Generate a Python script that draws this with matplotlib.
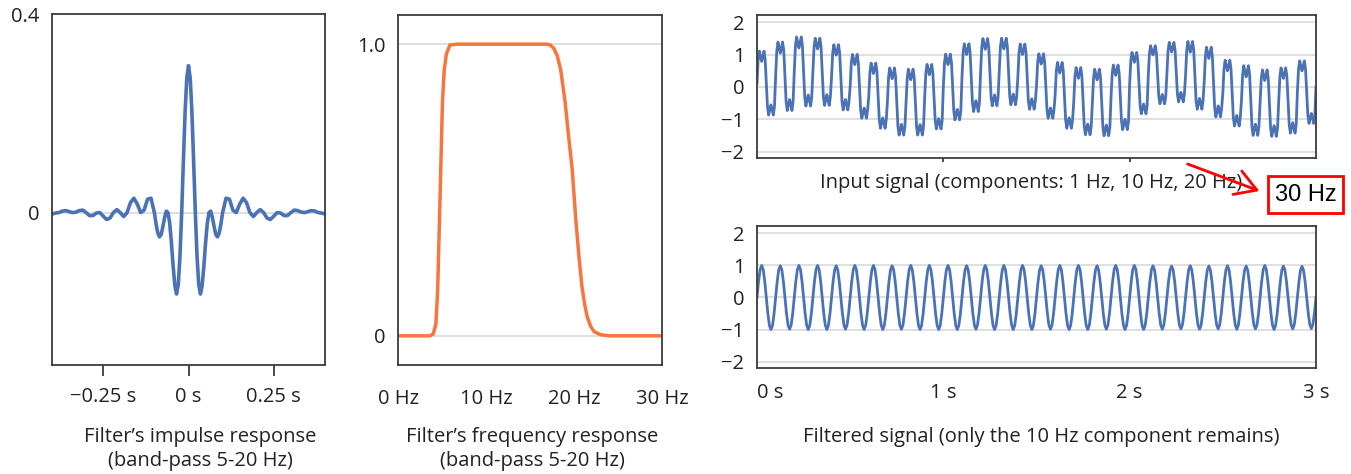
import matplotlib
matplotlib.use('Agg')
import matplotlib.pyplot as plt
from matplotlib import patches
import numpy as np

plt.rcParams['font.family'] = ['Open Sans', 'DejaVu Sans']

# impulse response, right half (symmetric about t = 0)
impulse_t = [0.000, 0.005, 0.010, 0.015, 0.020, 0.025, 0.030, 0.035, 0.040, 0.045,
             0.050, 0.055, 0.060, 0.065, 0.070, 0.075, 0.080, 0.085, 0.090, 0.095,
             0.100, 0.11, 0.12, 0.13, 0.14, 0.15, 0.16, 0.17, 0.18, 0.19,
             0.20, 0.21, 0.22, 0.23, 0.24, 0.25, 0.26, 0.27, 0.28, 0.29,
             0.30, 0.31, 0.32, 0.33, 0.34, 0.35, 0.36, 0.37, 0.38, 0.39, 0.40]
impulse_v = [0.296, 0.271, 0.202, 0.104, 0.000, -0.088, -0.145, -0.164, -0.147, -0.108,
             -0.061, -0.022, 0.000, 0.003, -0.010, -0.028, -0.044, -0.049, -0.041, -0.023,
             0.000, 0.029, 0.027, 0.005, 0.000, 0.017, 0.029, 0.020, 0.000, -0.008,
             0.000, 0.006, 0.000, -0.011, -0.014, -0.007, 0.000, -0.001, -0.006, -0.006,
             0.000, 0.005, 0.004, 0.001, 0.000, 0.002, 0.004, 0.003, 0.000, -0.001, -0.003]

# frequency response
freq_hz = [0, 3.6, 4.0, 4.3, 4.5, 4.7, 4.9, 5.05, 5.25, 5.5, 5.9, 6.7, 10, 16.9, 17.3,
           17.7, 18.1, 18.5, 19.0, 19.4, 19.8, 20.2, 20.6, 20.9, 21.2, 21.5, 21.9,
           22.3, 23.0, 24.0, 30]
gain = [0, 0, 0.006, 0.04, 0.15, 0.38, 0.62, 0.80, 0.91, 0.967, 0.997, 1.0, 1.0, 1.0, 0.997,
        0.986, 0.96, 0.91, 0.80, 0.68, 0.57, 0.40, 0.26, 0.17, 0.11, 0.065, 0.032,
        0.014, 0.004, 0, 0]

# input signal: one 10 Hz period (16 samples) + per-period offset and swing
input_cycle = [0.00, 0.74, 1.00, 0.83, 0.68, 0.83, 1.00, 0.74,
               0.00, -0.74, -1.00, -0.83, -0.68, -0.83, -1.00, -0.74]
input_offset = [0.12, 0.33, 0.48, 0.47, 0.30, 0.02, -0.27, -0.45, -0.47, -0.30,
                0.00, 0.29, 0.46, 0.48, 0.32, 0.03, -0.26, -0.44, -0.48, -0.32,
                0.12, 0.38, 0.46, 0.36, 0.15, -0.19, -0.42, -0.50, -0.42, -0.16]
input_swing = [0.99, 1.06, 1.07, 1.04, 1.01, 0.99, 1.01, 1.04, 1.02, 1.00,
               1.02, 1.05, 1.04, 1.03, 1.01, 1.00, 1.02, 1.04, 1.03, 1.00,
               0.95, 0.90, 0.92, 1.05, 1.08, 1.02, 1.08, 1.03, 1.01, 0.97]

# filtered signal: one 10 Hz period (12 samples) + per-period amplitude
filtered_cycle = [0.00, 0.50, 0.87, 1.00, 0.87, 0.50, 0.00, -0.50, -0.87, -1.00, -0.87, -0.50]
filtered_amp = [1.00, 0.99, 1.00, 1.00, 0.99, 1.00, 1.00, 0.99, 1.00, 1.00,
                1.00, 0.99, 1.00, 1.00, 1.00, 0.99, 1.00, 1.00, 0.99, 1.00,
                1.00, 0.99, 0.98, 0.99, 0.98, 0.99, 0.98, 1.00, 0.98, 0.97]

BLUE = '#4a72b5'
ORANGE = '#f5763f'
GRID = '#dcdcdc'
SPINE = '#3c3c3c'
TEXT = '#222222'
FS = 14.5
W, H = 1351, 474


def px_axes(fig, x0, y0, x1, y1):
    return fig.add_axes([x0 / W, 1 - y1 / H, (x1 - x0) / W, (y1 - y0) / H])


def style(ax):
    for s in ax.spines.values():
        s.set_color(SPINE)
        s.set_linewidth(1.3)
    ax.tick_params(which='both', colors=SPINE, labelcolor=TEXT, labelsize=FS, width=1.3)
    ax.tick_params(axis='y', length=0, pad=9)


fig = plt.figure(figsize=(W / 100, H / 100), dpi=100)

# impulse response
ax1 = px_axes(fig, 52, 14, 325, 365)
style(ax1)
t_full = np.concatenate([-np.array(impulse_t[:0:-1]), impulse_t])
v_full = np.concatenate([impulse_v[:0:-1], impulse_v])
ax1.axhline(0, color=GRID, lw=1.3, zorder=0)
ax1.plot(t_full, v_full, color=BLUE, lw=2.6, solid_capstyle='round')
ax1.set_xlim(-0.4, 0.4)
ax1.set_ylim(-0.307, 0.4)
ax1.set_yticks([0, 0.4], ['0', '0.4'])
ax1.set_xticks([-0.25, 0, 0.25], ['\u22120.25 s', '0 s', '0.25 s'])
ax1.tick_params(axis='x', length=8, pad=8)

# frequency response
ax2 = px_axes(fig, 398, 15, 662, 365)
style(ax2)
ax2.axhline(0, color=GRID, lw=1.3, zorder=0)
ax2.axhline(1, color=GRID, lw=1.3, zorder=0)
ax2.plot(freq_hz, gain, color=ORANGE, lw=2.5, solid_joinstyle='round')
ax2.set_xlim(0, 30)
ax2.set_ylim(-0.1, 1.1)
ax2.set_yticks([0, 1], ['0', '1.0'])
ax2.set_xticks([0, 10, 20, 30], ['0 Hz', '10 Hz', '20 Hz', '30 Hz'])
ax2.set_xticks([10, 20], minor=True)
ax2.tick_params(axis='x', which='major', length=0, pad=17)
ax2.tick_params(axis='x', which='minor', length=8)

# input and filtered signals
n_in = len(input_cycle)
input_sig = [o + s * c for o, s in zip(input_offset, input_swing) for c in input_cycle]
input_sig.append(0.0)
t_in = np.arange(len(input_sig)) / (10 * n_in)

n_f = len(filtered_cycle)
filtered_sig = [a * c for a in filtered_amp for c in filtered_cycle]
filtered_sig.append(0.0)
t_f = np.arange(len(filtered_sig)) / (10 * n_f)

ax3 = px_axes(fig, 757, 15, 1316, 158)
ax4 = px_axes(fig, 757, 226, 1316, 368)
for ax, t, y in [(ax3, t_in, input_sig), (ax4, t_f, filtered_sig)]:
    style(ax)
    for g in [-2, -1, 0, 1, 2]:
        ax.axhline(g, color=GRID, lw=1.3, zorder=0)
    ax.plot(t, y, color=BLUE, lw=2.0)
    ax.set_xlim(0, 3)
    ax.set_ylim(-2.2, 2.23)
    ax.set_yticks([-2, -1, 0, 1, 2], ['\u22122', '\u22121', '0', '1', '2'])
    ax.set_xticks([1, 2], minor=True)

ax3.set_xticks([])
ax3.tick_params(axis='x', which='minor', length=3)
ax4.set_xticks([0, 1, 2, 3], ['0 s', '1 s', '2 s', '3 s'])
ax4.tick_params(axis='x', which='major', length=0, pad=11)
ax4.tick_params(axis='x', which='minor', length=6)
ax4.get_xticklabels()[0].set_horizontalalignment('left')

# captions
fig.text(200 / W, 1 - 437 / H, 'Filter\u2019s impulse response', ha='center', va='center', fontsize=FS, color=TEXT)
fig.text(200 / W, 1 - 461 / H, '(band-pass 5-20 Hz)', ha='center', va='center', fontsize=FS, color=TEXT)
fig.text(532 / W, 1 - 437 / H, 'Filter\u2019s frequency response', ha='center', va='center', fontsize=FS, color=TEXT)
fig.text(532 / W, 1 - 461 / H, '(band-pass 5-20 Hz)', ha='center', va='center', fontsize=FS, color=TEXT)
fig.text(1031 / W, 1 - 183 / H, 'Input signal (components: 1 Hz, 10 Hz, 20 Hz)', ha='center', va='center',
         fontsize=FS, color=TEXT)
fig.text(1041 / W, 1 - 437 / H, 'Filtered signal (only the 10 Hz component remains)', ha='center', va='center',
         fontsize=FS, color=TEXT)

# red correction note
fig.add_artist(patches.Rectangle((1268 / W, 1 - 213 / H), 75 / W, 37 / H, transform=fig.transFigure,
                                 fill=True, facecolor='white', edgecolor='red', lw=2, zorder=5))
fig.text(1305.5 / W, 1 - 195 / H, '30 Hz', ha='center', va='center', fontsize=17, color='black',
         family='Liberation Sans', zorder=6)
fig.add_artist(patches.FancyArrowPatch((1185 / W, 1 - 163 / H), (1262 / W, 1 - 192 / H),
                                       transform=fig.transFigure, arrowstyle='->,head_length=1.0,head_width=0.6',
                                       mutation_scale=15, color='red', lw=2, zorder=6))

fig.savefig('out.png', dpi=100)
